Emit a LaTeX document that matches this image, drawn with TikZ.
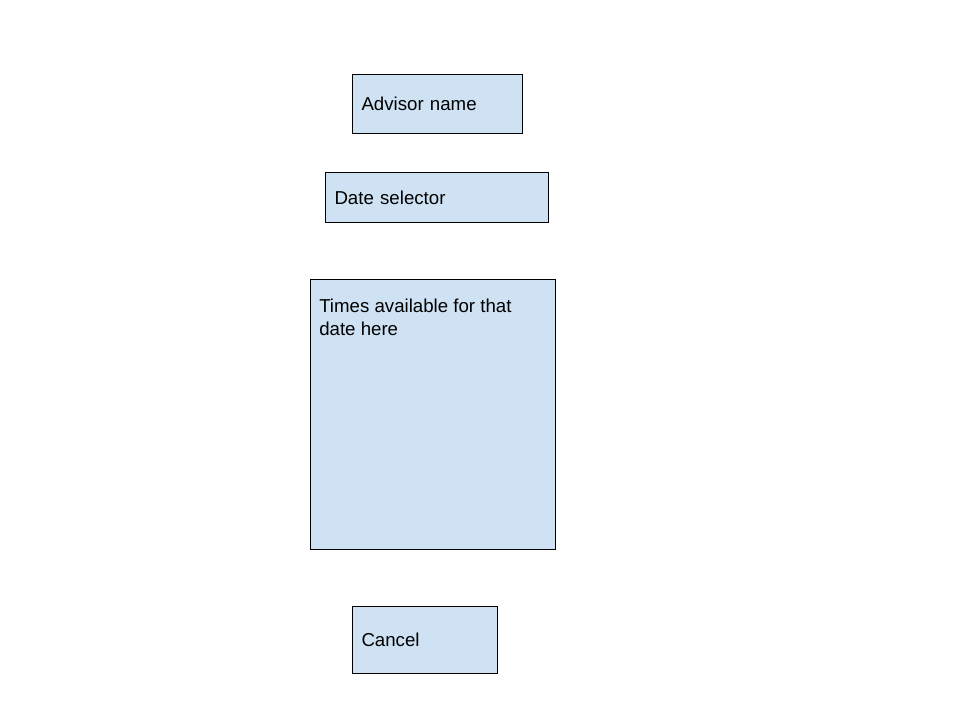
\documentclass[tikz,border=0pt]{standalone}
\usepackage{fontspec}
\setmainfont{Liberation Sans}
\usepackage{tikz}
\definecolor{boxblue}{HTML}{CFE2F3}

\begin{document}
\begin{tikzpicture}[x=0.75pt,y=-0.75pt,
  box/.style={draw,fill=boxblue,line width=0.75pt,anchor=north west,align=left,
    inner xsep=6.75pt,font=\fontsize{14pt}{17.25pt}\selectfont}]
  \useasboundingbox (0,0) rectangle (960,720);

  \node[box,text width=114pt,minimum height=44.25pt] (advisor) at (352,74) {Advisor name};
  \node[box,text width=153.75pt,minimum height=37.5pt] (date) at (325,172) {Date selector};
  \node[box,minimum width=183.75pt,minimum height=202.5pt,
    label={[anchor=north west,align=left,inner xsep=6.75pt,inner ysep=14.5pt,
      font=\fontsize{14pt}{17.25pt}\selectfont]north west:Times available for that\\date here}]
    (times) at (310,279) {};
  \node[box,text width=95.25pt,minimum height=50.25pt] (cancel) at (352,606) {Cancel};
\end{tikzpicture}
\end{document}
